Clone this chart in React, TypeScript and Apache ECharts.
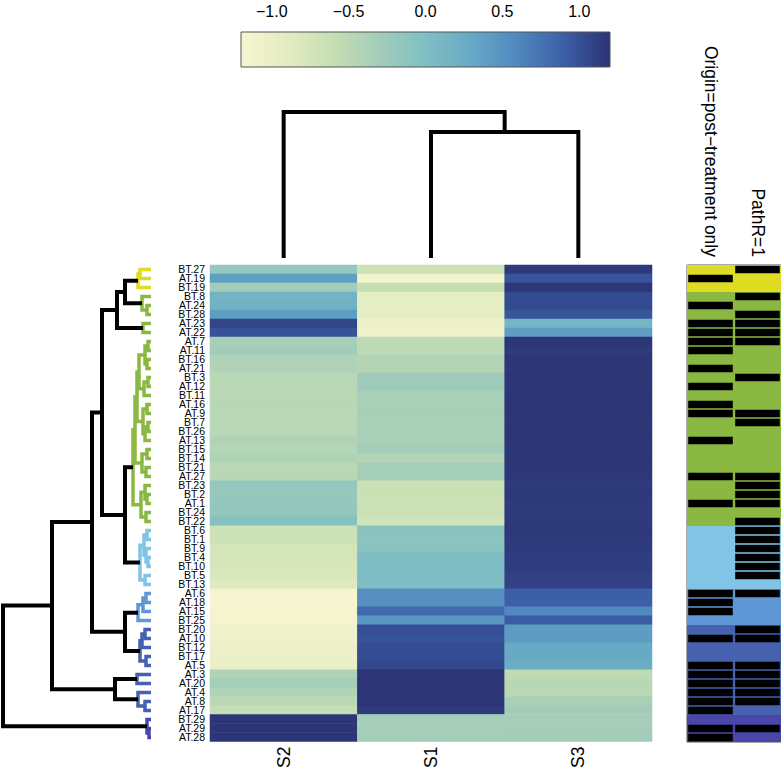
import React, { useEffect, useRef } from "react";
import * as echarts from "echarts";

// ---------- data ----------
const samples = ["S2", "S1", "S3"];

const rowLabels = [
  "BT.27", "AT.19", "BT.19", "BT.8", "AT.24", "BT.28", "AT.23", "AT.22", "AT.7", "AT.11",
  "BT.16", "AT.21", "BT.3", "AT.12", "BT.11", "AT.16", "AT.9", "BT.7", "BT.26", "AT.13",
  "BT.15", "BT.14", "BT.21", "AT.27", "BT.23", "BT.2", "AT.1", "BT.24", "BT.22", "BT.6",
  "BT.1", "BT.9", "BT.4", "BT.10", "BT.5", "BT.13", "AT.6", "AT.18", "AT.15", "BT.25",
  "BT.20", "AT.10", "BT.12", "BT.17", "AT.5", "AT.3", "AT.20", "AT.4", "AT.8", "AT.17",
  "BT.29", "AT.29", "AT.28",
];

const valuesS2 = [
  -0.17, 0.39, -0.3, 0.16, 0.18, 0.4, 1.07, 0.99, -0.34, -0.29,
  -0.41, -0.41, -0.5, -0.48, -0.5, -0.47, -0.5, -0.49, -0.5, -0.41,
  -0.45, -0.4, -0.5, -0.48, -0.17, -0.19, -0.17, -0.15, -0.05, -0.66,
  -0.66, -0.75, -0.76, -0.78, -0.8, -0.84, -1.18, -1.2, -1.17, -1.15,
  -1.06, -1.06, -1.04, -1.04, -1.0, -0.4, -0.32, -0.42, -0.5, -0.6,
  1.18, 1.18, 1.18,
];

const valuesS1 = [
  -0.69, -1.14, -0.58, -0.93, -0.95, -0.93, -1.05, -1.07, -0.52, -0.52,
  -0.44, -0.44, -0.26, -0.26, -0.34, -0.34, -0.33, -0.34, -0.34, -0.36,
  -0.29, -0.44, -0.32, -0.32, -0.64, -0.64, -0.66, -0.64, -0.72, -0.08,
  -0.1, -0.08, 0.03, 0.03, 0.04, 0.03, 0.54, 0.54, 0.82, 0.46,
  1.01, 0.99, 1.02, 1.02, 1.05, 1.18, 1.18, 1.18, 1.18, 1.15,
  -0.32, -0.32, -0.3,
];

const valuesS3 = [
  1.15, 0.98, 1.17, 1.04, 1.04, 0.97, 0.12, 0.4, 1.17, 1.15,
  1.17, 1.16, 1.17, 1.17, 1.18, 1.18, 1.18, 1.17, 1.18, 1.18,
  1.17, 1.18, 1.17, 1.16, 1.15, 1.16, 1.15, 1.15, 1.15, 1.16,
  1.15, 1.15, 1.12, 1.12, 1.1, 1.1, 0.9, 0.9, 0.6, 0.92,
  0.42, 0.42, 0.28, 0.28, 0.25, -0.55, -0.48, -0.5, -0.35, -0.3,
  -0.32, -0.3, -0.3,
];

// cluster id of each row (as cut in the row dendrogram)
const rowCluster = [
  0, 0, 0, 1, 1, 1, 2, 2, 3, 3,
  3, 3, 3, 3, 3, 3, 3, 3, 3, 3,
  3, 3, 3, 3, 3, 3, 3, 3, 3, 4,
  4, 4, 4, 4, 4, 4, 5, 5, 5, 5,
  6, 6, 6, 6, 6, 7, 7, 8, 8, 8,
  9, 9, 9,
];

const annotationNames = ["Origin=post\u2212treatment only", "PathR=1"];

const originPostOnly = [
  0, 1, 0, 0, 1, 0, 1, 1, 1, 1,
  0, 1, 0, 1, 0, 1, 1, 0, 0, 1,
  0, 0, 0, 1, 0, 0, 1, 0, 0, 0,
  0, 0, 0, 0, 0, 0, 1, 1, 1, 0,
  0, 1, 0, 0, 1, 1, 1, 1, 1, 1,
  0, 1, 1,
];

const pathR1 = [
  1, 0, 0, 1, 0, 1, 1, 1, 1, 0,
  0, 0, 1, 0, 0, 0, 1, 1, 0, 0,
  0, 0, 0, 1, 1, 1, 1, 0, 1, 1,
  1, 1, 1, 1, 1, 0, 1, 0, 0, 0,
  1, 1, 0, 0, 1, 1, 1, 1, 1, 0,
  0, 1, 0,
];

// row dendrogram: [mergeHeight, left, right], leaves = row index
type Tree = number | [number, Tree, Tree];
const rowTree: Tree = [148,
  [99,
    [59,
      [49,
        [34, [26, [13, [11, 0, 1], 2], [9, 3, [4, 4, 5]]], [8, 6, 7]],
        [26,
          [18,
            [16,
              [14,
                [12, [6, [3, 8, 9], [4, 10, 11]], [7, [3, 12, 13], 14]],
                [8, [4, 15, 16], [6, [3, 17, 18], 19]]],
              [9, [4, 20, 21], [5, 22, 23]]],
            [10, [6, 24, [4, 25, 26]], [5, 27, 28]]],
          [11, [7, [4, 29, 30], [5, 31, [3, 32, 33]]], [6, 34, 35]]]],
      [26,
        [13, [8, [5, 36, 37], 38], 39],
        [11, [9, [6, 40, 41], 42], [5, 43, 44]]]],
    [36, [14, 45, 46], [13, 47, [6, 48, 49]]]],
  [4, 50, [2, 51, 52]]];

// column dendrogram (S2, S1, S3)
const colTree: Tree = [1.0, 0, [0.863, 1, 2]];

const colorBarTicks = [-1, -0.5, 0, 0.5, 1];

// ---------- styles ----------
const palette = ["#f7f5d0", "#e3ecc1", "#c6deb3", "#a3cdb9", "#80bfc3", "#66a9c5", "#5088bf", "#3c5fa8", "#2b3272"];
const clusterColors = ["#e0dc24", "#8ab842", "#8ab842", "#8ab842", "#82c4e6", "#5f97d6", "#4662ae", "#4662ae", "#4662ae", "#4b47aa"];
const FONT = "Liberation Sans, Arial, Helvetica, sans-serif";

function layoutTree(t: Tree, leafCluster: number[], segs: number[][]): { h: number; y: number; cl: number } {
  if (typeof t === "number") return { h: 0, y: t + 0.5, cl: leafCluster[t] };
  const [H, a, b] = t;
  const A = layoutTree(a, leafCluster, segs);
  const B = layoutTree(b, leafCluster, segs);
  const cl = A.cl === B.cl && A.cl >= 0 ? A.cl : -1;
  segs.push([A.h, A.y, H, A.y, H, B.y, B.h, B.y, cl]);
  return { h: H, y: (A.y + B.y) / 2, cl };
}

function buildOption() {
  const heatData: number[][] = [];
  const cols = [valuesS2, valuesS1, valuesS3];
  cols.forEach((arr, c) => arr.forEach((v, r) => heatData.push([c, r, v])));

  const rowSegs: number[][] = [];
  layoutTree(rowTree, rowCluster, rowSegs);

  const colSegs: number[][] = [];
  layoutTree(colTree, [-1, -1, -1], colSegs);

  const annotData: number[][] = [];
  rowLabels.forEach((_, r) => {
    annotData.push([0, r, originPostOnly[r], rowCluster[r]]);
    annotData.push([1, r, pathR1[r], rowCluster[r]]);
  });

  const fmt = (v: number) => (v < 0 ? "\u2212" : "") + Math.abs(v).toFixed(1);

  return {
    animation: false,
    backgroundColor: "#ffffff",
    textStyle: { fontFamily: FONT },
    grid: [
      { left: 210, top: 265, width: 442, height: 477 },
      { left: 3, top: 265, width: 148, height: 477 },
      { left: 210, top: 112, width: 442, height: 146 },
      { left: 241, top: 32, width: 369, height: 35 },
      { left: 687, top: 265, width: 98, height: 477, show: true, borderColor: "#555", borderWidth: 1, backgroundColor: "transparent" },
    ],
    xAxis: [
      {
        gridIndex: 0, type: "category", data: samples, position: "bottom",
        axisLine: { show: false }, axisTick: { show: false }, splitLine: { show: false },
        axisLabel: { rotate: 90, fontSize: 17.5, color: "#000", margin: 5, fontFamily: FONT },
      },
      { gridIndex: 1, type: "value", min: 0, max: 148, inverse: true, show: false },
      { gridIndex: 2, type: "value", min: 0, max: 3, show: false },
      {
        gridIndex: 3, type: "value", min: -1.2, max: 1.2, position: "top",
        axisLine: { show: false }, splitLine: { show: false },
        axisTick: { show: true, customValues: colorBarTicks, length: 9, lineStyle: { color: "#000", width: 1 } },
        axisLabel: { customValues: colorBarTicks, formatter: fmt, fontSize: 16, margin: 13, color: "#000", fontFamily: FONT },
      },
      {
        gridIndex: 4, type: "category", data: annotationNames, position: "top",
        axisLine: { show: false }, axisTick: { show: false }, splitLine: { show: false },
        axisLabel: { rotate: 90, fontSize: 17.5, color: "#000", margin: 8, interval: 0, fontFamily: FONT },
      },
    ],
    yAxis: [
      {
        gridIndex: 0, type: "category", data: rowLabels, inverse: true,
        axisLine: { show: false }, axisTick: { show: false }, splitLine: { show: false },
        axisLabel: { fontSize: 10.5, lineHeight: 9, color: "#000", margin: 5, interval: 0, fontFamily: FONT },
      },
      { gridIndex: 1, type: "value", min: 0, max: 53, inverse: true, show: false },
      { gridIndex: 2, type: "value", min: 0, max: 1, show: false },
      { gridIndex: 3, type: "value", min: 0, max: 1, show: false },
      { gridIndex: 4, type: "category", data: rowLabels, inverse: true, show: false },
    ],
    visualMap: {
      type: "continuous", min: -1.2, max: 1.2, dimension: 2, seriesIndex: 0, show: false,
      inRange: { color: palette },
    },
    series: [
      {
        type: "heatmap", xAxisIndex: 0, yAxisIndex: 0, data: heatData,
        itemStyle: { borderWidth: 0 }, emphasis: { disabled: true },
      },
      {
        type: "custom", xAxisIndex: 1, yAxisIndex: 1, data: rowSegs, silent: true,
        renderItem: (_p: any, api: any) => {
          const pts = [0, 1, 2, 3].map((i) => api.coord([api.value(2 * i), api.value(2 * i + 1)]));
          const cl = api.value(8);
          const colored = cl >= 0;
          return {
            type: "polyline",
            shape: { points: pts },
            style: { stroke: colored ? clusterColors[cl] : "#000", lineWidth: colored ? 3.5 : 4, fill: "none", lineJoin: "miter" },
          };
        },
      },
      {
        type: "custom", xAxisIndex: 2, yAxisIndex: 2, data: colSegs, silent: true,
        renderItem: (_p: any, api: any) => {
          const pts = [0, 1, 2, 3].map((i) => api.coord([api.value(2 * i + 1), api.value(2 * i)]));
          return {
            type: "polyline",
            shape: { points: pts },
            style: { stroke: "#000", lineWidth: 4, fill: "none", lineJoin: "miter" },
          };
        },
      },
      {
        type: "custom", xAxisIndex: 3, yAxisIndex: 3, data: [[-1.2, 0, 1.2, 1]], silent: true,
        renderItem: (_p: any, api: any) => {
          const p1 = api.coord([api.value(0), api.value(3)]);
          const p2 = api.coord([api.value(2), api.value(1)]);
          const stops = palette.map((c, i) => ({ offset: i / (palette.length - 1), color: c }));
          return {
            type: "rect",
            shape: { x: p1[0], y: p1[1], width: p2[0] - p1[0], height: p2[1] - p1[1] },
            style: { fill: new echarts.graphic.LinearGradient(0, 0, 1, 0, stops), stroke: "#555", lineWidth: 1 },
          };
        },
      },
      {
        type: "custom", xAxisIndex: 4, yAxisIndex: 4, data: annotData, silent: true,
        renderItem: (_p: any, api: any) => {
          const c = api.coord([api.value(0), api.value(1)]);
          const s = api.size([1, 1]);
          const w = s[0], h = s[1];
          const x0 = c[0] - w / 2, y0 = c[1] - h / 2;
          const children: any[] = [
            { type: "rect", shape: { x: x0, y: y0, width: w, height: h }, style: { fill: clusterColors[api.value(3)] } },
          ];
          if (api.value(2) === 1) {
            children.push({ type: "rect", shape: { x: x0 + 1.2, y: y0 + 0.8, width: w - 2.4, height: h - 1.6 }, style: { fill: "#000" } });
          }
          return { type: "group", children };
        },
      },
    ],
  };
}

export default function App() {
  const ref = useRef<HTMLDivElement>(null);
  useEffect(() => {
    document.body.style.margin = "0";
    const chart = echarts.init(ref.current as HTMLDivElement, null, { renderer: "svg" });
    chart.setOption(buildOption() as any);
    return () => chart.dispose();
  }, []);
  return <div ref={ref} style={{ width: 781, height: 771 }} />;
}
